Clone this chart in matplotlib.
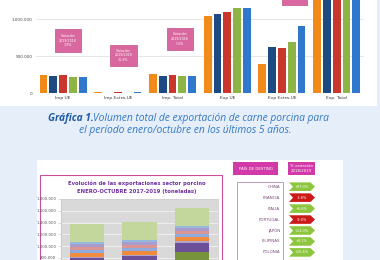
import numpy as np
import matplotlib
matplotlib.use('Agg')
import matplotlib.pyplot as plt
from matplotlib.patches import Rectangle, Polygon

W, H = 380, 260

# ---- grafica 1: volumen import / export (toneladas), enero-octubre
years = ['2015', '2016', '2017', '2018', '2019']
groups = ['Imp UE', 'Imp Extra-UE', 'Imp. Total', 'Exp UE', 'Exp Extra-UE', 'Exp. Total']
imp_ue = [243000, 226000, 239000, 220000, 220000]
imp_extra_ue = [8000, 6000, 7000, 6000, 9000]
imp_total = [251000, 232000, 246000, 226000, 229000]
exp_ue = [1045000, 1068000, 1090000, 1145000, 1150000]
exp_extra_ue = [390000, 626000, 612000, 685000, 900000]
exp_total = [1435000, 1694000, 1702000, 1830000, 2050000]
var_labels = ['Variación\n2019/2018\n7,3%', 'Variación\n2019/2018\n36,3%',
              'Variación\n2019/2018\n1,3%', 'Variación\n2019/2018\n11,1%']

# ---- evolucion exportaciones sector porcino 2017-2019 (toneladas)
anios = ['2017', '2018', '2019']
stack_names = ['Resto', 'China', 'Francia', 'Italia', 'Portugal', 'Japón',
               'Filipinas', 'Polonia', 'Corea del Sur', 'Otros']
stack_vals = [
    [300000, 300000, 300000],
    [260000, 300000, 593000],
    [236000, 230000, 153000],
    [22000, 22000, 44000],
    [63000, 68000, 68000],
    [56000, 46000, 51000],
    [51000, 51000, 51000],
    [51000, 46000, 41000],
    [34000, 39000, 39000],
    [301000, 312000, 302000],
]

# ---- tabla variacion 2018/2019
paises = ['CHINA', 'FRANCIA', 'ITALIA', 'PORTUGAL', 'JAPÓN', 'FILIPINAS', 'POLONIA']
variacion = [97.0, -3.8, 5.8, -9.0, 13.0, 8.1, 15.6]

year_colors = ['#f28a1a', '#1d4a83', '#c9372c', '#8db444', '#2f78cc']
stack_colors = ['#4f81bd', '#77933c', '#6b4f98', '#b3a2c7', '#f08a3c',
                '#8faadc', '#d99694', '#a99bcb', '#93b9dd', '#c3d69b']


def box(x0, y0, x1, y1):
    # pixel box -> figure fraction
    return [x0 / W, 1 - y1 / H, (x1 - x0) / W, (y1 - y0) / H]


def miles(v):
    return f'{int(v):,}'.replace(',', '.')


fig = plt.figure(figsize=(3.8, 2.6), dpi=100)
fig.patch.set_facecolor('#e5eef9')

bg = fig.add_axes([0, 0, 1, 1], zorder=0)
bg.set_xlim(0, W)
bg.set_ylim(H, 0)
bg.axis('off')
bg.add_patch(Rectangle((0, 0), 377, 106, fc='white', ec='none'))
bg.add_patch(Rectangle((37, 160), 306, 110, fc='white', ec='none'))
bg.add_patch(Rectangle((40, 175), 182, 100, fc='white', ec='#c9509f', lw=0.8))

# top chart
ax1 = fig.add_axes(box(35.8, 0, 364, 93), zorder=1)
ax1.patch.set_alpha(0)
data = np.array([imp_ue, imp_extra_ue, imp_total, exp_ue, exp_extra_ue, exp_total]).T
x = np.arange(len(groups))
for i, yr in enumerate(years):
    ax1.bar(x + (i - 2) * 0.179, data[i], width=0.142, color=year_colors[i], label=yr)
ax1.set_xlim(-0.5, 5.5)
ax1.set_ylim(0, 1.257e6)
ax1.set_yticks([0, 500000, 1000000])
ax1.set_yticklabels([miles(v) for v in [0, 500000, 1000000]], fontsize=3, color='#444444')
ax1.set_xticks(x)
ax1.set_xticklabels(groups, fontsize=3.2, color='#3a3a3a')
ax1.tick_params(length=0, pad=2.5)
ax1.yaxis.grid(color='#e2e2e2', lw=0.6)
ax1.set_axisbelow(True)
for s in ax1.spines.values():
    s.set_visible(False)

# caption
fig.text(48 / W, 1 - 119 / H, 'Gráfica 1.', fontsize=7.3, family='Open Sans', style='italic',
         weight='bold', color='#1f5aa6', ha='left', va='center')
fig.text(93 / W, 1 - 119 / H, 'Volumen total de exportación de carne porcina para',
         fontsize=7.4, family='Open Sans', style='italic', color='#3479c4', ha='left', va='center')
fig.text(185 / W, 1 - 130.5 / H, 'el período enero/octubre en los últimos 5 años.',
         fontsize=7.4, family='Open Sans', style='italic', color='#3479c4', ha='center', va='center')

# bottom stacked chart
ax2 = fig.add_axes(box(61, 199, 218, 304.75), zorder=1)
ax2.set_facecolor('#d9d9d9')
xb = np.arange(len(anios))
bottom = np.zeros(len(anios))
for vals, name, col in zip(stack_vals, stack_names, stack_colors):
    ax2.bar(xb, vals, bottom=bottom, width=0.65, color=col, label=name)
    bottom += np.array(vals)
ax2.set_xlim(-0.5, 2.5)
ax2.set_ylim(0, 1800000)
# only the ticks that fall inside the page are labelled
yt = np.arange(800000, 1800001, 200000)
ax2.set_yticks(yt)
ax2.set_yticklabels([miles(v) for v in yt], fontsize=2.8, color='#595959')
ax2.set_xticks([])
ax2.tick_params(axis='y', length=2, width=0.4, color='#bdbdbd', pad=1.5)
ax2.yaxis.grid(color='#f2f2f2', lw=0.6)
ax2.set_axisbelow(True)
for s in ax2.spines.values():
    s.set_color('#c4c4c4')
    s.set_linewidth(0.5)

# overlay: annotation boxes, chart title, table
ov = fig.add_axes([0, 0, 1, 1], zorder=3)
ov.set_xlim(0, W)
ov.set_ylim(H, 0)
ov.axis('off')
ov.patch.set_alpha(0)

pink_boxes = [(55, 29, 81, 52), (110, 45, 137, 66), (167, 28, 193, 50), (282, -17, 307, 5)]
for (x0, y0, x1, y1), lab in zip(pink_boxes, var_labels):
    ov.add_patch(Rectangle((x0, y0), x1 - x0, y1 - y0, fc='#d8689f', ec='#bf4f88', lw=0.5))
    if y0 >= 0:
        ov.text((x0 + x1) / 2, (y0 + y1) / 2, lab, fontsize=2.3, color='white',
                ha='center', va='center', linespacing=1.2)

ov.text(137, 183, 'Evolución de las exportaciones sector porcino', fontsize=3.8,
        weight='bold', color='#7030a0', ha='center', va='center')
ov.text(137, 192, 'ENERO-OCTUBRE 2017-2019 (toneladas)', fontsize=3.8,
        weight='bold', color='#7030a0', ha='center', va='center')

ov.add_patch(Rectangle((233, 162), 45, 13, fc='#d13aa8', ec='none'))
ov.text(255.5, 168.5, 'PAÍS DE DESTINO', fontsize=2.8, color='white', ha='center', va='center')
ov.add_patch(Rectangle((288, 162), 27, 13, fc='#d13aa8', ec='none'))
ov.text(301.5, 168.5, '% variación\n2018/2019', fontsize=2.8, color='white',
        ha='center', va='center', linespacing=1.1)
ov.add_patch(Rectangle((237, 182), 46, 90, fc='white', ec='#b58ab0', lw=0.6))

for i, (p, v) in enumerate(zip(paises, variacion)):
    yc = 186.7 + i * 10.95
    ov.text(280, yc, p, fontsize=2.9, color='#7a4a7a', ha='right', va='center')
    col = '#8cc63e' if v >= 0 else '#cc1a1a'
    ov.add_patch(Polygon([(289, yc - 4.3), (310.5, yc - 4.3), (315, yc), (310.5, yc + 4.3),
                          (289, yc + 4.3), (293, yc)], closed=True, fc=col, ec='none'))
    txt = f'{v:+.1f}%'.replace('.', ',')
    ov.text(302, yc, txt, fontsize=2.5, color='white', ha='center', va='center')

fig.savefig('out.png', dpi=100)
